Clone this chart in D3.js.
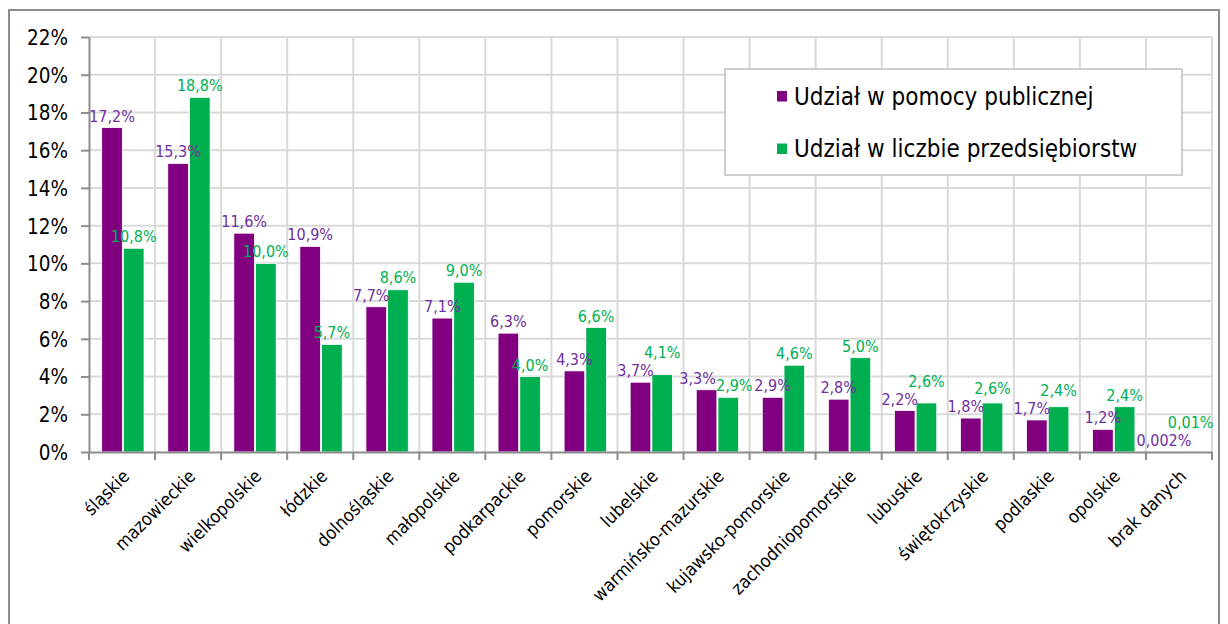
<!DOCTYPE html>
<html>
<head>
<meta charset="utf-8">
<script src="https://cdn.jsdelivr.net/npm/d3@7"></script>
<style>
  body { margin: 0; background: #fff; }
  text { font-family: "DejaVu Sans Condensed", "DejaVu Sans", sans-serif; font-stretch: condensed; }
</style>
</head>
<body>
<div id="chart"></div>
<script>
// Data
var regions = ["śląskie", "mazowieckie", "wielkopolskie", "łódzkie", "dolnośląskie", "małopolskie",
  "podkarpackie", "pomorskie", "lubelskie", "warmińsko-mazurskie", "kujawsko-pomorskie",
  "zachodniopomorskie", "lubuskie", "świętokrzyskie", "podlaskie", "opolskie", "brak danych"];
var aidShare = [17.2, 15.3, 11.6, 10.9, 7.7, 7.1, 6.3, 4.3, 3.7, 3.3, 2.9, 2.8, 2.2, 1.8, 1.7, 1.2, 0.002];
var firmShare = [10.8, 18.8, 10.0, 5.7, 8.6, 9.0, 4.0, 6.6, 4.1, 2.9, 4.6, 5.0, 2.6, 2.6, 2.4, 2.4, 0.01];
var aidLabels = ["17,2%", "15,3%", "11,6%", "10,9%", "7,7%", "7,1%", "6,3%", "4,3%", "3,7%", "3,3%", "2,9%", "2,8%", "2,2%", "1,8%", "1,7%", "1,2%", "0,002%"];
var firmLabels = ["10,8%", "18,8%", "10,0%", "5,7%", "8,6%", "9,0%", "4,0%", "6,6%", "4,1%", "2,9%", "4,6%", "5,0%", "2,6%", "2,6%", "2,4%", "2,4%", "0,01%"];
var yTicks = [0, 2, 4, 6, 8, 10, 12, 14, 16, 18, 20, 22];
var seriesNames = ["Udział w pomocy publicznej", "Udział w liczbie przedsiębiorstw"];

var svgWidth = 1228;
var svgHeight = 624;
var margin = { top: 37, right: 16, bottom: 172, left: 89 };
var width = 1212 - margin.left;
var height = 452 - margin.top;

var barColors = ["#800080", "#00b050"];
var labelColors = ["#7030a0", "#00b050"];

var svg = d3.select("#chart")
  .append("svg")
  .attr("width", svgWidth)
  .attr("height", svgHeight);

// outer frame
svg.append("rect")
  .attr("x", 9).attr("y", 10)
  .attr("width", 1210).attr("height", 640)
  .attr("fill", "none")
  .attr("stroke", "#8c8c8c")
  .attr("stroke-width", 2);

var chartGroup = svg.append("g")
  .attr("transform", `translate(${margin.left}, ${margin.top})`);

var data = regions.map(function(r, i) {
  return { region: r, values: [aidShare[i], firmShare[i]], labels: [aidLabels[i], firmLabels[i]] };
});

var xScale = d3.scaleBand()
  .domain(regions)
  .range([0, width]);

var xInner = d3.scaleBand()
  .domain([0, 1])
  .range([12.7, xScale.bandwidth() - 11])
  .paddingInner(0.05);

var yScale = d3.scaleLinear()
  .domain([0, 22])
  .range([height, 0]);

// gridlines
chartGroup.append("g")
  .selectAll("line")
  .data(yTicks.slice(1))
  .enter()
  .append("line")
  .attr("x1", 0).attr("x2", width)
  .attr("y1", d => yScale(d)).attr("y2", d => yScale(d))
  .attr("stroke", "#d9d9d9").attr("stroke-width", 2);

chartGroup.append("g")
  .selectAll("line")
  .data(regions.slice(1).concat(["end"]))
  .enter()
  .append("line")
  .attr("x1", (d, i) => xScale.step() * (i + 1))
  .attr("x2", (d, i) => xScale.step() * (i + 1))
  .attr("y1", 0).attr("y2", height)
  .attr("stroke", "#d9d9d9").attr("stroke-width", 2);

// bars
var groups = chartGroup.selectAll(".grp")
  .data(data)
  .enter()
  .append("g")
  .attr("transform", d => `translate(${xScale(d.region)},0)`);

groups.selectAll("rect")
  .data(d => d.values)
  .enter()
  .append("rect")
  .attr("x", (d, i) => xInner(i))
  .attr("width", xInner.bandwidth())
  .attr("y", d => yScale(d))
  .attr("height", d => height - yScale(d))
  .attr("fill", (d, i) => barColors[i])
  .attr("stroke", "#fff")
  .attr("stroke-width", 0.8);

// data labels: when the two labels of a group would collide,
// lift the green one (if its bar is taller) or push them apart sideways
function labelPos(d, i) {
  var cx = xInner(i) + xInner.bandwidth() / 2;
  var aidY = yScale(d.values[0]) - 6;
  var firmY = yScale(d.values[1]) - 6;
  var collide = Math.abs(aidY - firmY) < 17;
  if (!collide) return [cx, i === 0 ? aidY : firmY];
  if (d.values[1] >= d.values[0]) {
    return i === 0 ? [cx - 5, aidY] : [cx, aidY - 18];
  }
  return i === 0 ? [cx - 9, aidY] : [cx + 6, firmY];
}

groups.each(function(d) {
  d3.select(this).selectAll("text")
    .data(d.labels)
    .enter()
    .append("text")
    .text(l => l)
    .attr("x", (l, i) => labelPos(d, i)[0])
    .attr("y", (l, i) => labelPos(d, i)[1])
    .attr("text-anchor", "middle")
    .attr("font-size", "16px")
    .attr("fill", (l, i) => labelColors[i]);
});

// axes
var yAxis = d3.axisLeft(yScale).tickValues(yTicks).tickFormat(d => d + "%").tickSize(8).tickSizeOuter(0);
var xAxis = d3.axisBottom(xScale).tickSize(0).tickSizeOuter(0);

var yG = chartGroup.append("g").call(yAxis);
yG.select(".domain").attr("stroke", "#8c8c8c").attr("stroke-width", 2);
yG.selectAll(".tick line").attr("stroke", "#8c8c8c").attr("stroke-width", 2);
yG.selectAll("text").attr("font-size", "20.5px").attr("fill", "#000").attr("x", -21).attr("dy", "0.36em");

var xG = chartGroup.append("g")
  .attr("transform", `translate(0, ${height})`)
  .call(xAxis);
xG.select(".domain").attr("stroke", "#8c8c8c").attr("stroke-width", 2);
xG.selectAll("text")
  .attr("font-size", "18px")
  .attr("fill", "#000")
  .attr("text-anchor", "end")
  .attr("transform", "translate(4, 21) rotate(-45)")
  .attr("x", 0).attr("y", 0).attr("dy", "0.35em");

// tick marks at category boundaries
xG.append("g")
  .selectAll("line")
  .data(regions.concat(["end"]))
  .enter()
  .append("line")
  .attr("x1", (d, i) => xScale.step() * i)
  .attr("x2", (d, i) => xScale.step() * i)
  .attr("y1", 0).attr("y2", 8)
  .attr("stroke", "#8c8c8c").attr("stroke-width", 2);

// legend
var legend = svg.append("g");
legend.append("rect")
  .attr("x", 725).attr("y", 69)
  .attr("width", 457).attr("height", 106)
  .attr("fill", "#fff")
  .attr("stroke", "#bfbfbf")
  .attr("stroke-width", 1.5);

seriesNames.forEach(function(name, i) {
  legend.append("rect")
    .attr("x", 777).attr("y", 91 + i * 52.5)
    .attr("width", 10).attr("height", 10.5)
    .attr("fill", barColors[i]);
  legend.append("text")
    .text(name)
    .attr("x", 794).attr("y", 96 + i * 52.5)
    .attr("dy", "0.36em")
    .attr("font-size", "24px")
    .attr("fill", "#000");
});
</script>
</body>
</html>
